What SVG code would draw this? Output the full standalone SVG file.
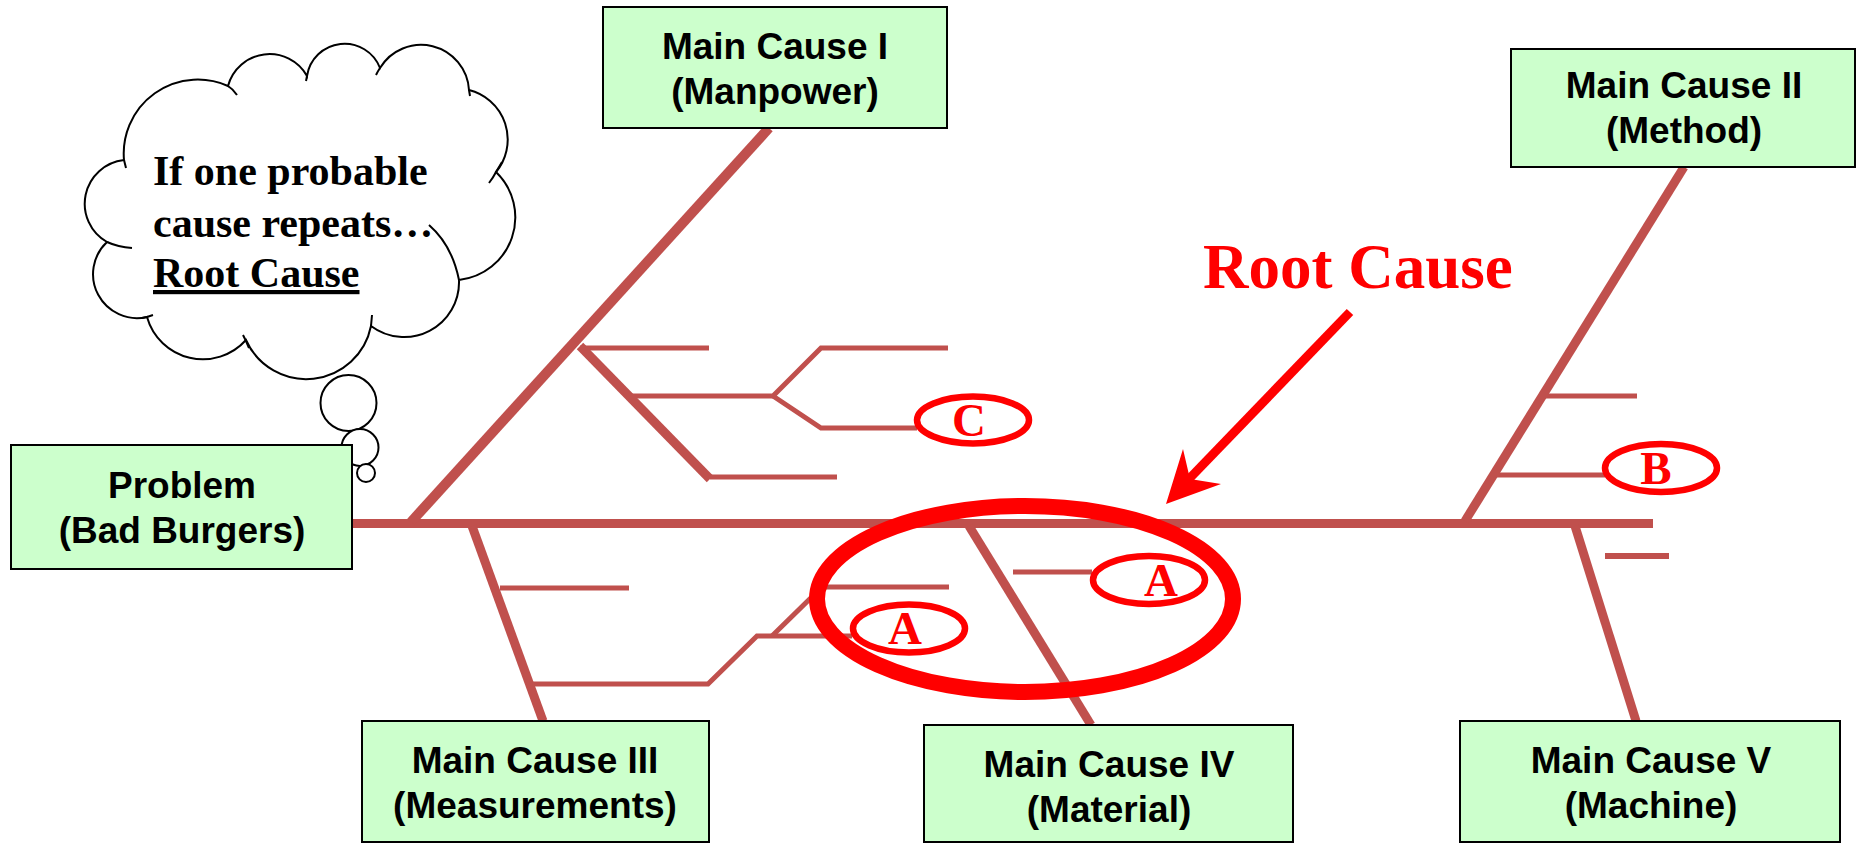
<svg xmlns="http://www.w3.org/2000/svg" width="1857" height="844" viewBox="0 0 1857 844">
  <style>
    .box { fill: #CCFFCC; stroke: #000000; stroke-width: 2; }
    .lbl { font-family: "Liberation Sans", Arial, sans-serif; font-weight: bold; font-size: 37px; fill: #000000; text-anchor: middle; }
    .bone { stroke: #C0504D; stroke-width: 9; fill: none; stroke-linecap: butt; }
    .twig { stroke: #C0504D; stroke-width: 5; fill: none; stroke-linejoin: miter; }
    .mark { fill: #FFFFFF; stroke: #FF0000; stroke-width: 6.5; }
    .mtxt { font-family: "Liberation Serif", "Times New Roman", serif; font-weight: bold; font-size: 47px; fill: #FF0000; text-anchor: middle; }
    .cloud { fill: #FFFFFF; stroke: #000000; stroke-width: 2; }
    .hook { fill: none; stroke: #000000; stroke-width: 2; }
    .ctxt { font-family: "Liberation Serif", "Times New Roman", serif; font-weight: bold; font-size: 42px; fill: #000000; }
  </style>

  <!-- thought cloud -->
  <g id="thought-cloud">
    <circle class="cloud" cx="348.5" cy="403" r="28"/>
    <circle class="cloud" cx="360" cy="447.5" r="18.5"/>
    <circle class="cloud" cx="366" cy="473" r="9"/>
    <path class="cloud" d="M124,160 A74,74 0 0 1 228,86 A43,43 0 0 1 307,76 A38,38 0 0 1 380,68 A48,48 0 0 1 469,90 A51,51 0 0 1 496,172 A63,63 0 0 1 459,280 A55,55 0 0 1 371,326 A66,66 0 0 1 246,340 A58,58 0 0 1 147,317 A44,44 0 0 1 107,242 A44,44 0 0 1 124,160 Z"/>
    <path class="hook" d="M124,160 Q125,164 126,168 M228,86 Q233,89 237,95 M307,76 L306,81 M380,68 Q378,71 376,75 M469,90 L470,96 M496,172 Q493,178 489,183 M496,172 Q499,167 502,162 M429,225 Q452,245 459,280 M371,326 L372,315 M246,341 L243,335 M246,341 L249,348 M147,317 L142,318 M147,317 L153,315 M107,242 Q118,247 132,248"/>
    <text class="ctxt" x="153" y="185">If one probable</text>
    <text class="ctxt" x="153" y="237">cause repeats…</text>
    <text class="ctxt" x="153" y="287" text-decoration="underline">Root Cause</text>
  </g>

  <!-- connectors: fishbone -->
  <g id="connectors">
    <line class="bone" x1="352" y1="523.5" x2="1653" y2="523.5"/>
    <line class="bone" x1="411" y1="522" x2="769" y2="128" style="stroke-width:10"/>
    <line class="bone" x1="1465" y1="521" x2="1684" y2="167"/>
    <line class="bone" x1="472" y1="526" x2="543" y2="721"/>
    <line class="bone" x1="969" y1="526" x2="1091" y2="725"/>
    <line class="bone" x1="1575" y1="526" x2="1636" y2="721"/>
    <line class="bone" x1="580" y1="346" x2="710" y2="479"/>

    <polyline class="twig" points="580,348 709,348"/>
    <polyline class="twig" points="628,396 773,396 821,348 948,348"/>
    <polyline class="twig" points="773,396 821,428 917,428"/>
    <polyline class="twig" points="710,477 837,477"/>

    <polyline class="twig" points="500,588 629,588"/>
    <polyline class="twig" points="532,684 708,684 757,636 852,636"/>
    <polyline class="twig" points="772,636 822,587 949,587"/>

    <polyline class="twig" points="1013,572 1092,572"/>

    <polyline class="twig" points="1545,396 1637,396"/>
    <polyline class="twig" points="1496,475 1605,475"/>
    <polyline class="twig" points="1605,556 1669,556" style="stroke-width:6"/>
  </g>

  <!-- nodes -->
  <g id="problem">
    <rect class="box" x="11" y="445" width="341" height="124"/>
    <text class="lbl" x="182" y="498">Problem</text>
    <text class="lbl" x="182" y="543">(Bad Burgers)</text>
  </g>
  <g id="cause-1">
    <rect class="box" x="603" y="7" width="344" height="121"/>
    <text class="lbl" x="775" y="59">Main Cause I</text>
    <text class="lbl" x="775" y="104">(Manpower)</text>
  </g>
  <g id="cause-2">
    <rect class="box" x="1511" y="49" width="344" height="118"/>
    <text class="lbl" x="1684" y="98">Main Cause II</text>
    <text class="lbl" x="1684" y="143">(Method)</text>
  </g>
  <g id="cause-3">
    <rect class="box" x="362" y="721" width="347" height="121"/>
    <text class="lbl" x="535" y="773">Main Cause III</text>
    <text class="lbl" x="535" y="818">(Measurements)</text>
  </g>
  <g id="cause-4">
    <rect class="box" x="924" y="725" width="369" height="117"/>
    <text class="lbl" x="1109" y="777">Main Cause IV</text>
    <text class="lbl" x="1109" y="822">(Material)</text>
  </g>
  <g id="cause-5">
    <rect class="box" x="1460" y="721" width="380" height="121"/>
    <text class="lbl" x="1651" y="773">Main Cause V</text>
    <text class="lbl" x="1651" y="818">(Machine)</text>
  </g>

  <!-- markers -->
  <g id="mark-c">
    <ellipse class="mark" cx="973" cy="420" rx="56" ry="23.5"/>
    <text class="mtxt" x="969" y="436">C</text>
  </g>
  <g id="mark-b">
    <ellipse class="mark" cx="1661" cy="468" rx="56" ry="24"/>
    <text class="mtxt" x="1656" y="484">B</text>
  </g>
  <g id="mark-a1">
    <ellipse class="mark" cx="909" cy="628.5" rx="56" ry="24"/>
    <text class="mtxt" x="905" y="644">A</text>
  </g>
  <g id="mark-a2">
    <ellipse class="mark" cx="1149" cy="580" rx="56" ry="24"/>
    <text class="mtxt" x="1161" y="596">A</text>
  </g>

  <!-- root cause highlight -->
  <g id="root-cause">
    <ellipse cx="1025" cy="599" rx="208" ry="93" fill="none" stroke="#FF0000" stroke-width="16"/>
    <line x1="1350" y1="312" x2="1189" y2="479" stroke="#FF0000" stroke-width="9"/>
    <polygon points="1166,504 1183,449 1190,479 1221,484" fill="#FF0000"/>
    <text x="1203" y="288" font-family="Liberation Serif, 'Times New Roman', serif" font-weight="bold" font-size="63" fill="#FF0000">Root Cause</text>
  </g>
</svg>
